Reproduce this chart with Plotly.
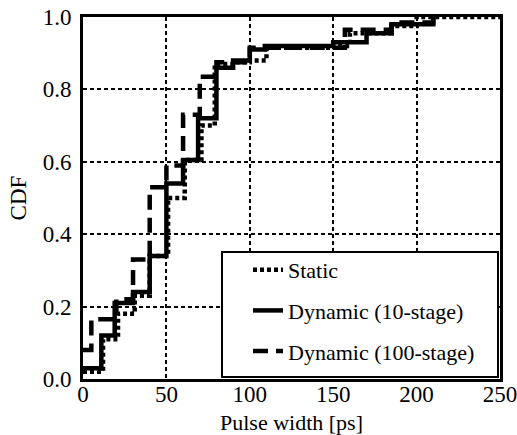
import plotly.graph_objects as go

# Static (dotted)
static_x = [0, 12, 21, 31, 40, 51, 61, 71, 79, 91, 100, 110, 150, 160, 185, 200, 250]
static_y = [0.02, 0.11, 0.18, 0.23, 0.34, 0.50, 0.605, 0.70, 0.87, 0.875, 0.88, 0.915, 0.92, 0.955, 0.975, 1.0, 1.0]

# Dynamic (10-stage) (solid)
dyn10_x = [0, 11, 19, 30, 40, 50, 60, 69, 80, 90, 100, 109, 150, 170, 185, 210]
dyn10_y = [0.03, 0.12, 0.21, 0.24, 0.34, 0.54, 0.605, 0.72, 0.86, 0.88, 0.91, 0.92, 0.93, 0.955, 0.98, 1.0]

# Dynamic (100-stage) (dashed)
dyn100_x = [0, 5, 20, 30, 40, 50, 60, 70, 80, 100, 157, 185, 210]
dyn100_y = [0.08, 0.165, 0.22, 0.33, 0.53, 0.59, 0.73, 0.835, 0.875, 0.915, 0.965, 0.985, 1.0]

names = ["Static", "Dynamic (10-stage)", "Dynamic (100-stage)"]

FONT = "Liberation Serif"

fig = go.Figure()
fig.add_trace(go.Scatter(x=static_x, y=static_y, mode="lines", line_shape="hv",
                         line=dict(color="black", width=4.5, dash="4px,3px"),
                         name=names[0], legendgroup="a"))
fig.add_trace(go.Scatter(x=dyn10_x, y=dyn10_y, mode="lines", line_shape="hv",
                         line=dict(color="black", width=4.5),
                         name=names[1], legendgroup="b"))
fig.add_trace(go.Scatter(x=dyn100_x, y=dyn100_y, mode="lines", line_shape="hv",
                         line=dict(color="black", width=4.5, dash="15px,8px"),
                         name=names[2], legendgroup="c"))

# legend box
fig.add_shape(type="rect", xref="paper", yref="paper",
              x0=(222 - 83) / 417, x1=(498 - 83) / 417,
              y0=(379 - 377) / 362, y1=(379 - 252) / 362,
              line=dict(color="black", width=2), fillcolor="white", layer="above")

fig.update_layout(
    template="none",
    width=517, height=435,
    margin=dict(l=83, r=17, t=17, b=56),
    paper_bgcolor="white", plot_bgcolor="white",
    font=dict(family=FONT, color="black", size=22),
    showlegend=True,
    legend=dict(x=(248 - 83) / 417, y=(379 - 249) / 362, xanchor="left", yanchor="top",
                bgcolor="rgba(0,0,0,0)", borderwidth=0, traceorder="grouped",
                tracegroupgap=9, font=dict(family=FONT, size=22, color="black")),
    xaxis=dict(range=[0, 250], tickvals=[0, 50, 100, 150, 200, 250],
               showgrid=True, gridcolor="black", griddash="4px,3px", gridwidth=2,
               showline=True, linecolor="black", linewidth=3, mirror=True,
               ticks="", ticklen=0, zeroline=False, automargin=False,
               ticklabelstandoff=-8, ticklabeloverflow="allow",
               title=dict(text="Pulse width [ps]", font=dict(family=FONT, size=22), standoff=14),
               tickfont=dict(family=FONT, size=23)),
    yaxis=dict(range=[0, 1], tickvals=[0, 0.2, 0.4, 0.6, 0.8, 1.0], tickformat=".1f",
               showgrid=True, gridcolor="black", griddash="4px,3px", gridwidth=2,
               showline=True, linecolor="black", linewidth=3, mirror=True,
               ticks="", ticklen=0, zeroline=False, automargin=False, ticklabelstandoff=4,
               ticklabeloverflow="allow",
               title=dict(text="CDF", font=dict(family=FONT, size=23), standoff=10),
               tickfont=dict(family=FONT, size=23)),
)

fig.write_html("out.html")
